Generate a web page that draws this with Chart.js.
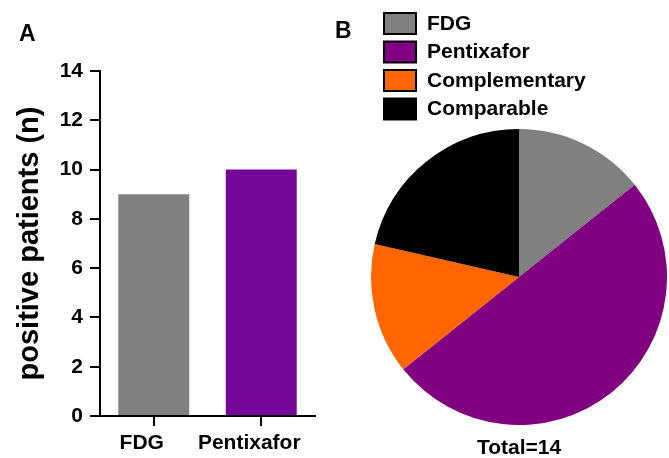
<!DOCTYPE html>
<html>
<head>
<meta charset="utf-8">
<script src="https://cdn.jsdelivr.net/npm/chart.js@4"></script>
<style>
  body { margin: 0; background: #fff; }
  #wrap { position: relative; width: 669px; height: 458px; }
  #barChart { position: absolute; left: 0; top: 0; }
  #pieChart { position: absolute; left: 330px; top: 0; }
</style>
</head>
<body>
<div id="wrap">
  <canvas id="barChart" width="330" height="458"></canvas>
  <canvas id="pieChart" width="339" height="458"></canvas>
</div>
<script>
// panel A data
const barLabels = ["FDG", "Pentixafor"];
const barValues = [9, 10];
const barColors = ["#808080", "#75069a"];
const yTicks = [0, 2, 4, 6, 8, 10, 12, 14];

// panel B data
const pieLabels = ["FDG", "Pentixafor", "Complementary", "Comparable"];
const pieValues = [2, 7, 2, 3];
const pieColors = ["#808080", "#800080", "#ff6600", "#000000"];

const FONT = '"Liberation Sans", Arial, sans-serif';
Chart.defaults.font.family = FONT;
Chart.defaults.color = "#000";

// panel letters
const panelLetter = {
  id: "panelLetter",
  afterDraw(chart, args, opts) {
    const c = chart.ctx;
    c.save();
    c.fillStyle = "#000";
    c.font = "bold 23px " + FONT;
    c.textBaseline = "middle";
    c.fillText(opts.text, opts.x, opts.y);
    c.restore();
  }
};

const barCtx = document.getElementById("barChart").getContext("2d");
new Chart(barCtx, {
  type: "bar",
  data: {
    labels: barLabels,
    datasets: [{
      data: barValues,
      backgroundColor: barColors,
      borderWidth: 0,
      barPercentage: 0.66,
      categoryPercentage: 1
    }]
  },
  options: {
    responsive: false,
    animation: false,
    layout: { padding: { left: 0, top: 71, right: 15, bottom: 0 } },
    plugins: {
      legend: { display: false },
      tooltip: { enabled: false },
      panelLetter: { text: "A", x: 19, y: 35 }
    },
    scales: {
      x: {
        afterFit: (s) => { s.height = 42; },
        grid: { offset: false, drawOnChartArea: false, tickLength: 10, color: "#000", lineWidth: 2 },
        border: { color: "#000", width: 2 },
        ticks: { font: { size: 21, weight: "bold" }, padding: 5, autoSkip: false, maxRotation: 0, labelOffset: -12 }
      },
      y: {
        min: 0,
        max: 14,
        afterFit: (s) => { s.width = 100; },
        afterBuildTicks: (s) => { s.ticks = yTicks.map(v => ({ value: v })); },
        grid: { drawOnChartArea: false, tickLength: 10, color: "#000", lineWidth: 2 },
        border: { color: "#000", width: 2 },
        ticks: { font: { size: 21, weight: "bold" }, padding: 7 },
        title: {
          display: true,
          text: "positive patients (n)",
          font: { size: 29, weight: "bold" },
          padding: { top: 13, bottom: 0 }
        }
      }
    }
  },
  plugins: [panelLetter]
});

// legend boxes + total for panel B
const boxLegend = {
  id: "boxLegend",
  afterDraw(chart) {
    const c = chart.ctx;
    const ds = chart.data.datasets[0];
    c.save();
    c.font = "bold 21px " + FONT;
    c.textBaseline = "middle";
    chart.data.labels.forEach((lab, i) => {
      const y = 13 + i * 28.5;
      c.fillStyle = ds.backgroundColor[i];
      c.fillRect(54, y, 32, 21);
      c.strokeStyle = "#000";
      c.lineWidth = 2;
      c.strokeRect(54, y, 32, 21);
      c.fillStyle = "#000";
      c.fillText(lab, 97, y + 11);
    });
    const total = ds.data.reduce((a, b) => a + b, 0);
    c.textAlign = "center";
    c.fillText("Total=" + total, 189, 448);
    c.restore();
  }
};

const pieCtx = document.getElementById("pieChart").getContext("2d");
new Chart(pieCtx, {
  type: "pie",
  data: {
    labels: pieLabels,
    datasets: [{
      data: pieValues,
      backgroundColor: pieColors,
      borderWidth: 0
    }]
  },
  options: {
    responsive: false,
    animation: false,
    layout: { padding: { left: 41, right: 2, top: 129, bottom: 33 } },
    plugins: {
      legend: { display: false },
      tooltip: { enabled: false },
      panelLetter: { text: "B", x: 5, y: 32 }
    }
  },
  plugins: [panelLetter, boxLegend]
});
</script>
</body>
</html>
